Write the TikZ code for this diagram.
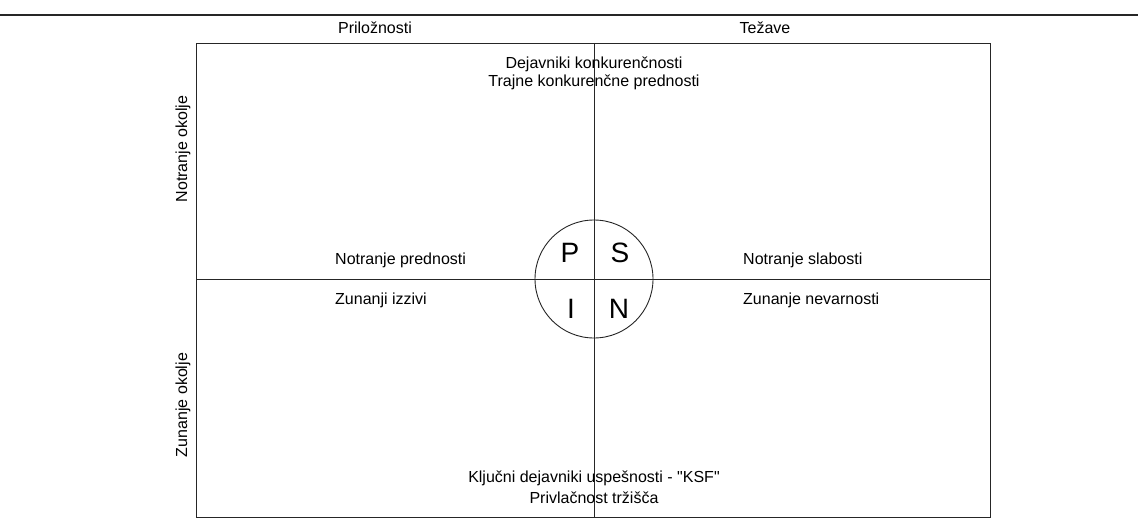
\documentclass[tikz,border=0pt]{standalone}
\usepackage{fontspec}
\setmainfont{Liberation Sans}
\newfontfamily\plainlib{Liberation Sans}
\begin{document}
\begin{tikzpicture}[x=1pt,y=-1pt,
  lbl/.style={inner sep=0pt, font=\plainlib\fontsize{16}{19}\selectfont, text=black},
  big/.style={inner sep=0pt, font=\plainlib\fontsize{28}{32}\selectfont, anchor=base, text=black},
  ln/.style={draw=black!85, line width=0.9pt}]
\useasboundingbox (0,0) rectangle (1138,527);
% frame corners
\coordinate (tl) at (196,43);
\coordinate (tr) at (990,43);
\coordinate (bl) at (196,517);
\coordinate (br) at (990,517);
\coordinate (tm) at (594,43);
\coordinate (bm) at (594,517);
\coordinate (ml) at (196,279);
\coordinate (mr) at (990,279);
\coordinate (ha) at (0,15);
\coordinate (hb) at (1138,15);
\draw[ln, line width=1.3pt] (ha) -- (hb);
\draw[ln] (tl) -- (tr) -- (br) -- (bl) -- cycle;
\draw[ln] (tm) -- (bm);
\draw[ln] (ml) -- (mr);
\node[ln, circle, minimum size=118pt, inner sep=0pt] (c) at (594,279) {};
% headers
\node[lbl, anchor=base] (pril) at (375,34) {Priložnosti};
\node[lbl, anchor=base] (tez) at (765,34) {Težave};
\node[lbl, anchor=base] (dej) at (594,69) {Dejavniki konkurenčnosti};
\node[lbl, anchor=base] (traj) at (594,86) {Trajne konkurenčne prednosti};
\node[lbl, anchor=base west] (np) at (335,264) {Notranje prednosti};
\node[lbl, anchor=base west] (ns) at (743,264) {Notranje slabosti};
\node[lbl, anchor=base west] (zi) at (335,304) {Zunanji izzivi};
\node[lbl, anchor=base west] (zn) at (743,304) {Zunanje nevarnosti};
\node[lbl, anchor=base] (ksf) at (594,482) {Ključni dejavniki uspešnosti - "KSF"};
\node[lbl, anchor=base] (priv) at (594,503) {Privlačnost tržišča};
\node[lbl, rotate=90] (no) at (183,149) {Notranje okolje};
\node[lbl, rotate=90] (zo) at (183,405) {Zunanje okolje};
% circle letters
\node[big] (P) at (570,262) {P};
\node[big] (S) at (620,262) {S};
\node[big] (I) at (571,318) {I};
\node[big] (N) at (619,318) {N};
\end{tikzpicture}
\end{document}
